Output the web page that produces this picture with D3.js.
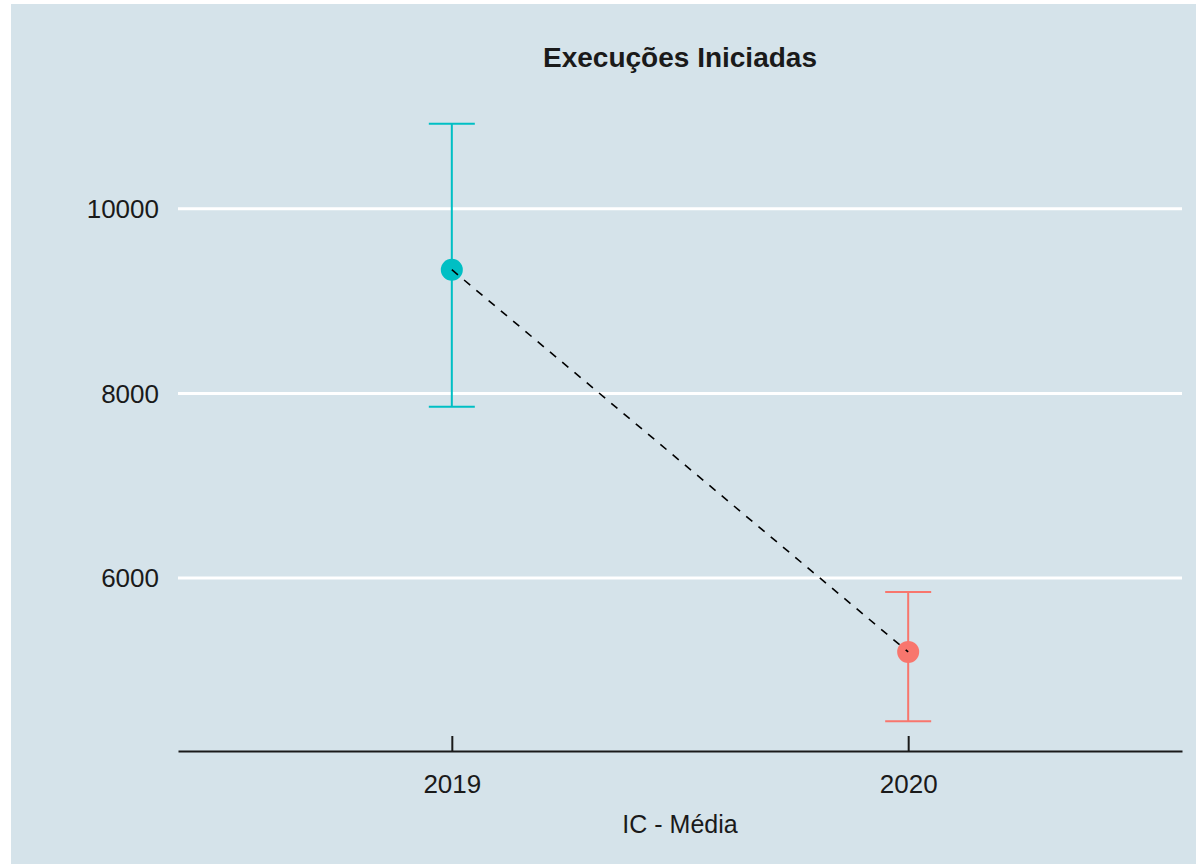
<!DOCTYPE html>
<html><head><meta charset="utf-8">
<script src="https://cdn.jsdelivr.net/npm/d3@7"></script>
<style>body{margin:0;background:#fff}svg{display:block}</style>
</head><body>
<svg id="c" width="1196" height="864"></svg>
<script>
const categories = ["2019", "2020"];
const means = [9340, 5200];
const lower = [7855, 4450];
const upper = [10920, 5850];
const colors = ["#00BFC4", "#F8766D"];
const yTicks = [6000, 8000, 10000];
const title = "Execuções Iniciadas";
const xTitle = "IC - Média";

const svg = d3.select("#c");
const font = "'Liberation Sans', Arial, sans-serif";
svg.append("rect").attr("x", 11).attr("y", 4).attr("width", 1185).attr("height", 860).attr("fill", "#D5E3EA");

const L = 178, R = 1182;
const x = d3.scalePoint().domain(categories).range([L, R]).padding(0.6);
const lo = d3.min(lower), hi = d3.max(upper), pad = (hi - lo) * 0.05;
const y = d3.scaleLinear().domain([lo - pad, hi + pad]).range([751, 94]);

// gridlines
svg.append("g").selectAll("line").data(yTicks).join("line")
  .attr("x1", L).attr("x2", R).attr("y1", d => y(d)).attr("y2", d => y(d))
  .attr("stroke", "#fff").attr("stroke-width", 3);

// y labels
svg.append("g").selectAll("text").data(yTicks).join("text")
  .attr("x", 159).attr("y", d => y(d)).attr("dy", "0.36em")
  .attr("text-anchor", "end").attr("font-family", font).attr("font-size", 26)
  .attr("fill", "#1a1a1a").text(d => d);

// x axis
const xAxis = d3.axisBottom(x).tickSizeInner(-15).tickSizeOuter(0).tickPadding(24);
const gx = svg.append("g").attr("transform", "translate(0,751)").call(xAxis);
gx.select(".domain").attr("stroke", "#1a1a1a").attr("stroke-width", 2);
gx.selectAll(".tick line").attr("stroke", "#1a1a1a").attr("stroke-width", 2);
gx.selectAll(".tick text").attr("font-family", font).attr("font-size", 26).attr("fill", "#1a1a1a");

const data = categories.map((c, i) => ({c, m: means[i], lo: lower[i], hi: upper[i], col: colors[i]}));

// error bars
const eb = svg.append("g").selectAll("g").data(data).join("g");
eb.append("line").attr("x1", d => x(d.c)).attr("x2", d => x(d.c)).attr("y1", d => y(d.lo)).attr("y2", d => y(d.hi))
  .attr("stroke", d => d.col).attr("stroke-width", 2);
eb.append("line").attr("x1", d => x(d.c) - 23).attr("x2", d => x(d.c) + 23).attr("y1", d => y(d.hi)).attr("y2", d => y(d.hi))
  .attr("stroke", d => d.col).attr("stroke-width", 2);
eb.append("line").attr("x1", d => x(d.c) - 23).attr("x2", d => x(d.c) + 23).attr("y1", d => y(d.lo)).attr("y2", d => y(d.lo))
  .attr("stroke", d => d.col).attr("stroke-width", 2);
eb.append("circle").attr("cx", d => x(d.c)).attr("cy", d => y(d.m)).attr("r", 11).attr("fill", d => d.col);

// dashed line between means (on top of points)
svg.append("path").datum(data)
  .attr("d", d3.line().x(d => x(d.c)).y(d => y(d.m)))
  .attr("fill", "none").attr("stroke", "#000").attr("stroke-width", 1.6).attr("stroke-dasharray", "8,8");

// titles
svg.append("text").attr("x", 680).attr("y", 67).attr("text-anchor", "middle")
  .attr("font-family", font).attr("font-weight", "bold").attr("font-size", 28).attr("fill", "#1a1a1a").text(title);
svg.append("text").attr("x", 680).attr("y", 833).attr("text-anchor", "middle")
  .attr("font-family", font).attr("font-size", 25).attr("fill", "#1a1a1a").text(xTitle);
</script>
</body></html>
